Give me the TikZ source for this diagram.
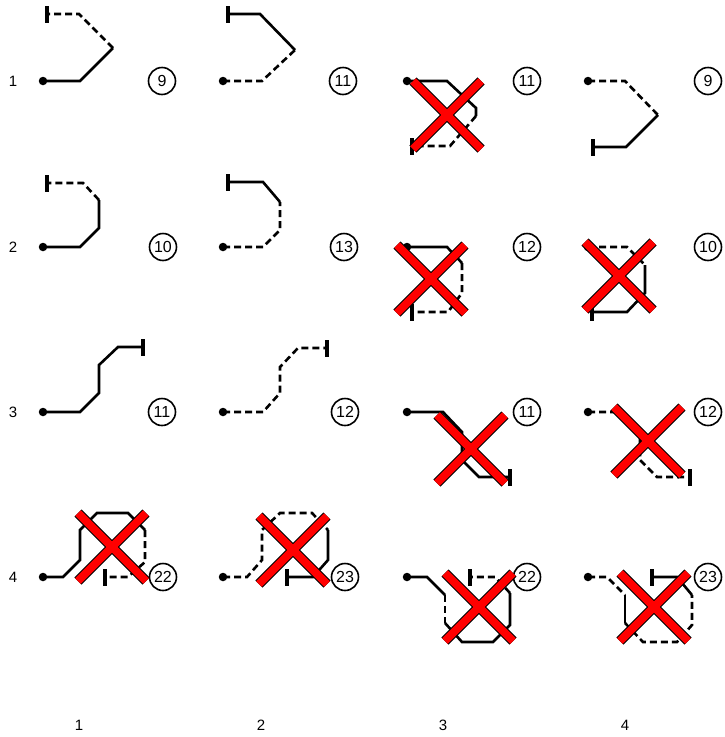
\documentclass[tikz,border=0pt]{standalone}
\usepackage{fontspec}
\setmainfont{Liberation Sans}
\tikzset{
    wire/.style={line width=2.6pt, line join=miter},
    wiredash/.style={wire, dash pattern=on 7pt off 4pt},
    pin/.style={circle, fill, inner sep=0pt, minimum size=8.5pt},
    stopbar/.style={rectangle, fill, inner sep=0pt, minimum width=3.2pt, minimum height=17pt},
    count/.style={circle, draw, line width=1.6pt, minimum size=27pt, inner sep=0pt, font=\fontsize{16}{16}\selectfont},
    axislabel/.style={font=\fontsize{15}{15}\selectfont}
}
% red cross with a thin black rim, centred at (#1,#2)
\newcommand{\crossout}[2]{%
    \draw[line width=10pt] (#1-34,#2-34) -- (#1+34,#2+34) (#1+34,#2-34) -- (#1-34,#2+34);
    \draw[line width=8pt, red] (#1-34,#2-34) -- (#1+34,#2+34) (#1+34,#2-34) -- (#1-34,#2+34);
}
\begin{document}
\begin{tikzpicture}[x=1pt, y=-1pt]
    \useasboundingbox (0,0) rectangle (725,737);

    % Row and column numbers
    \foreach \r/\y in {1/81, 2/247, 3/412, 4/577} {
        \node[axislabel] (row\r) at (13,\y) {\r};
    }
    \foreach \c/\x in {1/79, 2/261, 3/443, 4/625} {
        \node[axislabel] (col\c) at (\x,725) {\c};
    }

    % Start pins of every route
    \foreach \r/\y in {1/81, 2/247, 3/412, 4/577} {
        \foreach \c/\x in {1/43, 2/223, 3/407, 4/588} {
            \node[pin] (s\r\c) at (\x,\y) {};
        }
    }

    % Row 1
    \draw[wire] (s11.center) -- (80,81) -- (113,48);
    \draw[wiredash] (113,48) -- (79,14) -- (47,14) node[stopbar] (e11) {};
    \draw[wiredash] (s12.center) -- (262,81) -- (295,50);
    \draw[wire] (295,50) -- (260,14) -- (228,14) node[stopbar] (e12) {};
    \draw[wire] (s13.center) -- (447,81) -- (476,108) -- (476,116);
    \draw[wiredash] (476,116) -- (450,146) -- (412,146) node[stopbar] (e13) {};
    \draw[wiredash] (s14.center) -- (625,81) -- (658,115);
    \draw[wire] (658,115) -- (626,147) -- (593,147) node[stopbar] (e14) {};

    % Row 2
    \draw[wire] (s21.center) -- (80,247) -- (99,228) -- (99,200);
    \draw[wiredash] (99,200) -- (83,183) -- (47,183) node[stopbar] (e21) {};
    \draw[wiredash] (s22.center) -- (263,247) -- (280,230) -- (280,202);
    \draw[wire] (280,202) -- (263,182) -- (228,182) node[stopbar] (e22) {};
    \draw[wire] (s23.center) -- (447,247) -- (462,263);
    \draw[wiredash] (462,263) -- (462,293) -- (448,312) -- (412,312) node[stopbar] (e23) {};
    \draw[wiredash] (s24.center) -- (627,247) -- (645,265);
    \draw[wire] (645,265) -- (645,293) -- (627,312) -- (592,312) node[stopbar] (e24) {};

    % Row 3
    \draw[wire] (s31.center) -- (80,412) -- (99,393) -- (99,365) -- (118,347) -- (143,347) node[stopbar] (e31) {};
    \draw[wiredash] (s32.center) -- (263,412) -- (280,393) -- (280,367) -- (298,348) -- (327,348) node[stopbar] (e32) {};
    \draw[wire] (s33.center) -- (443,412) -- (462,432) -- (462,460) -- (479,477) -- (510,477) node[stopbar] (e33) {};
    \draw[wiredash] (s34.center) -- (618,412) -- (640,432) -- (640,460) -- (657,477) -- (690,477) node[stopbar] (e34) {};

    % Row 4
    \draw[wire] (s41.center) -- (63,577) -- (80,560) -- (80,530) -- (97,513) -- (128,513) -- (145,530);
    \draw[wiredash] (145,530) -- (145,562) -- (128,577) -- (105,577) node[stopbar] (e41) {};
    \draw[wiredash] (s42.center) -- (247,577) -- (262,560) -- (262,530) -- (280,513) -- (312,513) -- (328,530);
    \draw[wire] (328,530) -- (328,560) -- (313,577) -- (287,577) node[stopbar] (e42) {};
    \draw[wire] (s43.center) -- (427,577) -- (445,595);
    \draw[wiredash] (445,595) -- (445,623);
    \draw[wire] (445,623) -- (462,642) -- (493,642) -- (510,625) -- (510,593);
    \draw[wiredash] (510,593) -- (495,577) -- (470,577) node[stopbar] (e43) {};
    \draw[wiredash] (s44.center) -- (607,577) -- (625,595);
    \draw[wire] (625,595) -- (625,623);
    \draw[wiredash] (625,623) -- (643,642) -- (677,642) -- (692,625) -- (692,595);
    \draw[wire] (692,595) -- (677,577) -- (652,577) node[stopbar] (e44) {};

    % Route lengths
    \foreach \n/\x/\y/\t in {11/162/81/9, 12/343/81/11, 13/527/81/11, 14/708/81/9,
                             21/163/247/10, 22/344/247/13, 23/527/247/12, 24/708/247/10,
                             31/162/412/11, 32/345/412/12, 33/527/412/11, 34/708/412/12,
                             41/163/577/22, 42/345/577/23, 43/527/577/22, 44/708/577/23} {
        \node[count] (n\n) at (\x,\y) {\t};
    }

    % Rejected routes
    \crossout{447}{115}
    \crossout{431}{279}
    \crossout{619}{276}
    \crossout{471}{449}
    \crossout{648}{441}
    \crossout{112}{547}
    \crossout{293}{550}
    \crossout{479}{607}
    \crossout{654}{607}
\end{tikzpicture}
\end{document}
